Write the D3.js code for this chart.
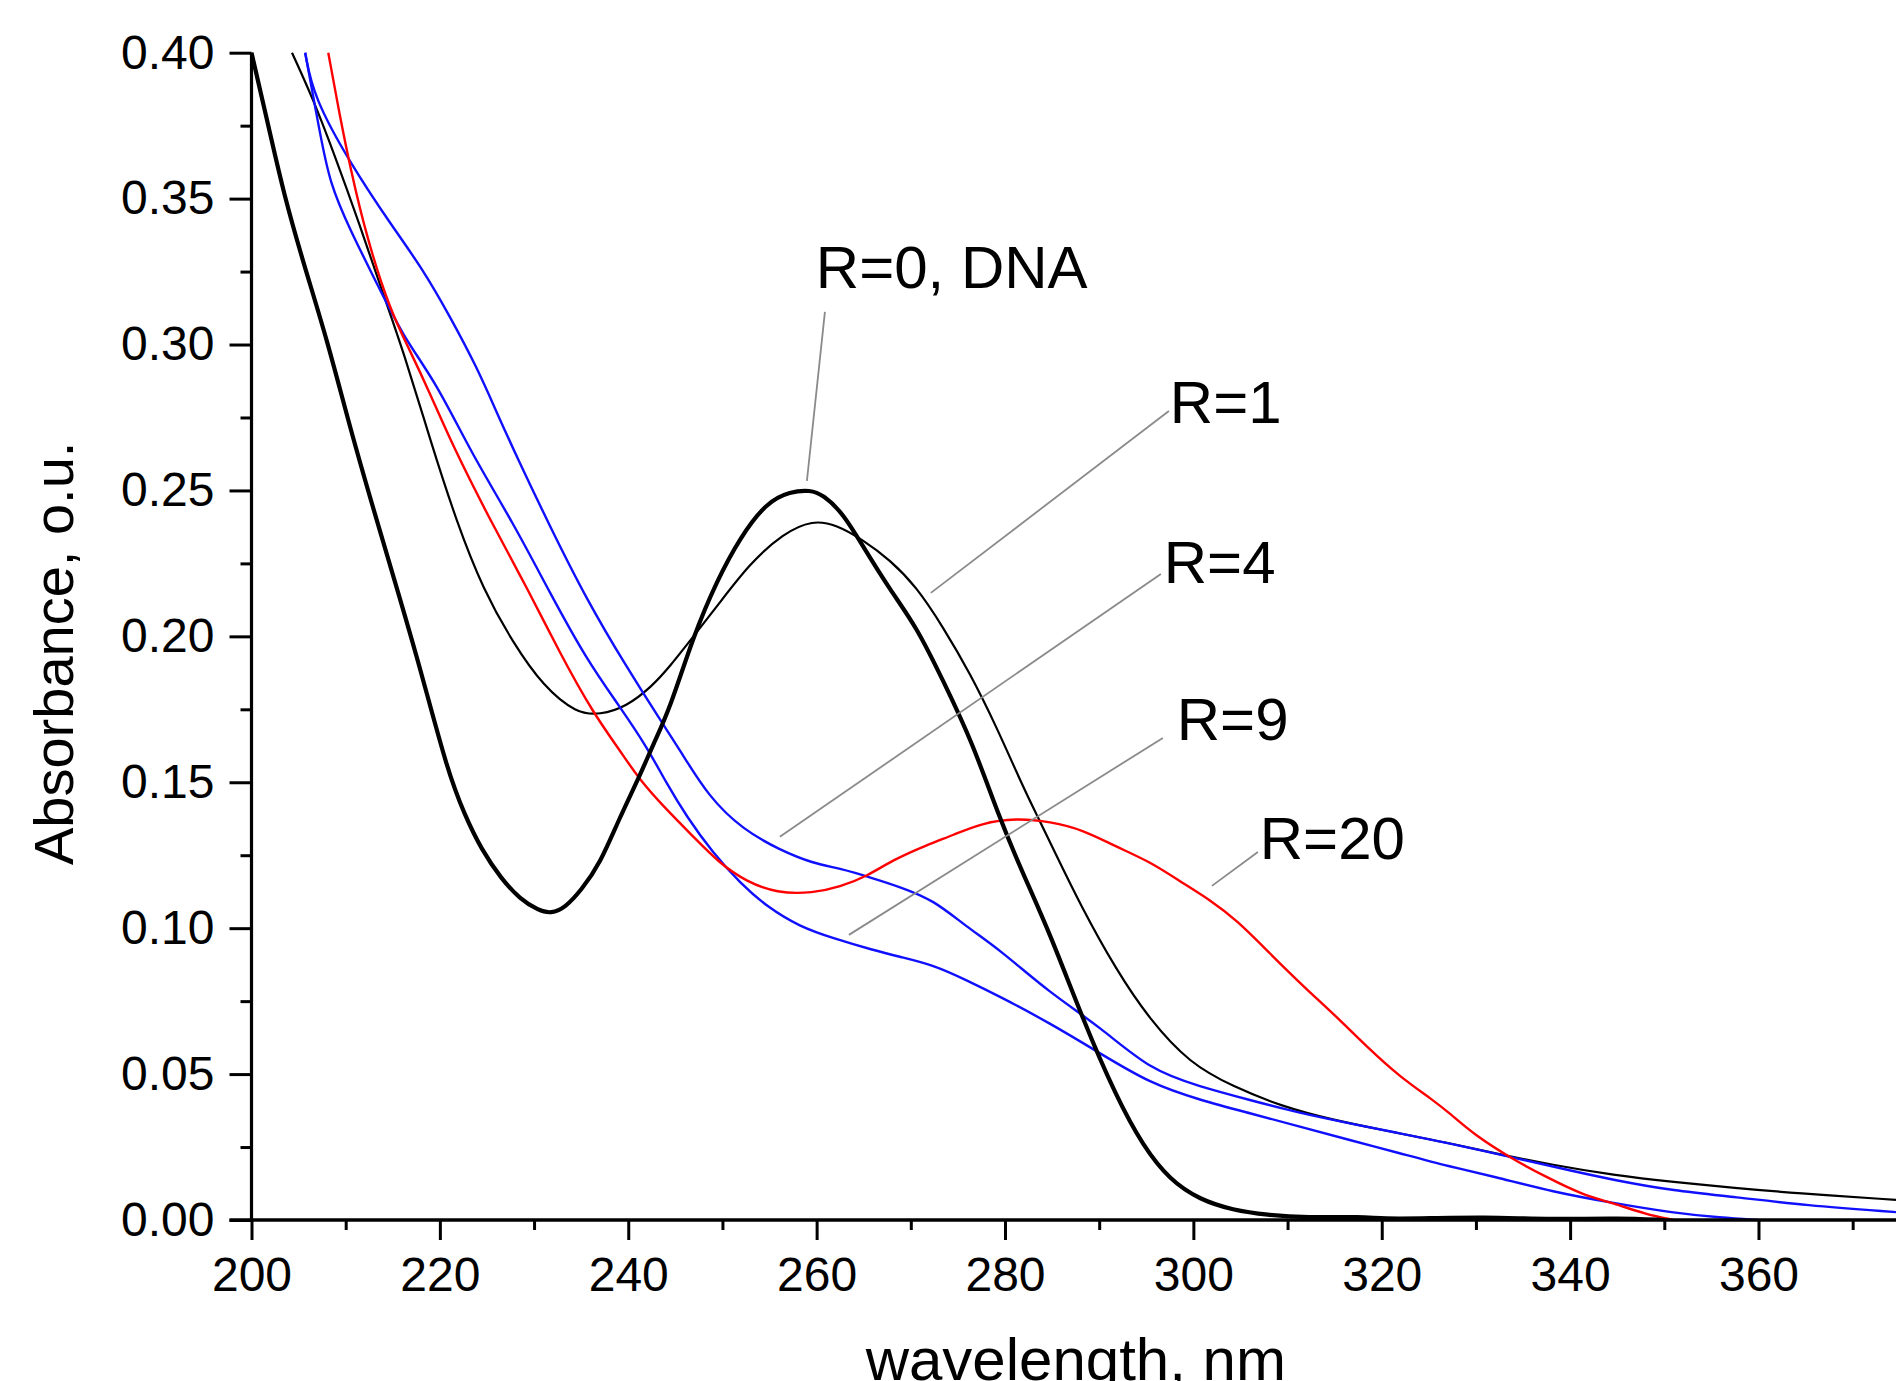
<!DOCTYPE html>
<html>
<head>
<meta charset="utf-8">
<script src="https://cdn.jsdelivr.net/npm/d3@7"></script>
<style>
  html, body { margin: 0; padding: 0; background: #ffffff; }
  svg { display: block; }
  text { font-family: "Liberation Sans", Arial, sans-serif; fill: #000; }
</style>
</head>
<body>
<svg id="chart" width="1896" height="1381"></svg>
<script>
// ---------- DATA ----------
// R=0, DNA (thick black)
const wl_R0  = [200.0, 202.0, 203.4, 205.5, 208.0, 210.5, 213.0, 215.8, 218.0, 220.8, 222.6, 224.4, 226.5, 228.5, 230.5, 231.8, 233.3, 235.0, 237.0, 239.1, 241.2, 242.65, 244.4, 246.9, 249.4, 251.9, 254.7, 257.2, 259.3, 260.7, 262.8, 264.95, 267.8, 270.6, 273.4, 276.5, 279.5, 282.0, 284.8, 288.3, 291.8, 294.7, 297.5, 300.7, 304.2, 307.8, 312.0, 318.0, 320.0, 325.0, 331.0, 336.0, 340.0, 345.0, 350.0];
const abs_R0 = [0.400, 0.372, 0.352, 0.328, 0.302, 0.271, 0.243, 0.2125, 0.188, 0.154, 0.139, 0.127, 0.117, 0.110, 0.106, 0.105, 0.107, 0.113, 0.122, 0.138, 0.152, 0.163, 0.175, 0.200, 0.219, 0.234, 0.246, 0.2496, 0.2502, 0.2485, 0.2422, 0.2307, 0.2159, 0.2033, 0.185, 0.164, 0.137, 0.118, 0.098, 0.0685, 0.0423, 0.0251, 0.0137, 0.0069, 0.0034, 0.0017, 0.0008, 0.0012, 0.0004, 0.0006, 0.0010, 0.0004, 0.0003, 0.0006, 0.0];

// R=1 (thin black)
const wl_R1  = [204.3, 206.56, 208.7, 211.5, 214.0, 216.1, 219.1, 221.8, 224.6, 227.8, 231.0, 234.5, 237.0, 239.8, 242.5, 244.4, 246.9, 249.4, 252.9, 256.45, 259.6, 262.1, 264.95, 267.8, 270.6, 273.4, 276.3, 279.1, 281.9, 283.5, 285.3, 288.0, 291.8, 295.4, 299.6, 304.2, 309.5, 314.8, 320.15, 323.7, 327.2, 331.8, 338.2, 344.6, 351.0, 357.5, 363.9, 374.6];
const abs_R1 = [0.400, 0.384, 0.366, 0.341, 0.317, 0.298, 0.266, 0.239, 0.216, 0.1976, 0.1828, 0.1736, 0.1731, 0.1759, 0.1828, 0.1896, 0.1999, 0.2102, 0.225, 0.2353, 0.2399, 0.2382, 0.233, 0.2262, 0.217, 0.2033, 0.1873, 0.169, 0.1485, 0.138, 0.126, 0.108, 0.0857, 0.0685, 0.0537, 0.0457, 0.0388, 0.0343, 0.0308, 0.0285, 0.0263, 0.023, 0.0188, 0.0154, 0.013, 0.011, 0.0092, 0.0069];

// R=4 (blue)
const wl_R4  = [205.7, 206.56, 210.5, 214.7, 218.24, 221.07, 223.9, 226.0, 228.15, 231.7, 235.6, 239.8, 243.4, 245.5, 248.5, 252.2, 256.1, 259.6, 262.5, 266.0, 268.8, 272.4, 275.9, 279.5, 284.8, 290.1, 295.4, 300.7, 306.0, 311.3, 316.6, 321.9, 327.2, 335.0, 340.0, 344.6, 351.0, 357.5, 365.0, 374.6];
const abs_R4 = [0.400, 0.385, 0.362, 0.3416, 0.3256, 0.3096, 0.2924, 0.277, 0.2616, 0.2376, 0.2125, 0.1896, 0.1713, 0.161, 0.1451, 0.1337, 0.1268, 0.1222, 0.1205, 0.1171, 0.1142, 0.1097, 0.1005, 0.0925, 0.0777, 0.0662, 0.0514, 0.0457, 0.0411, 0.0366, 0.0331, 0.0297, 0.0263, 0.0206, 0.017, 0.0137, 0.010, 0.0079, 0.005, 0.0027];

// R=9 (blue)
const wl_R9  = [205.7, 207.27, 208.3, 210.46, 213.3, 216.1, 219.66, 223.3, 227.8, 231.7, 235.6, 239.1, 242.0, 244.0, 246.2, 249.0, 251.9, 254.7, 258.2, 261.8, 266.0, 268.8, 272.4, 275.9, 279.5, 284.8, 290.1, 295.4, 300.7, 306.0, 311.3, 316.6, 321.9, 327.2, 331.8, 338.2, 344.6, 351.0, 356.0, 360.0];
const abs_R9 = [0.400, 0.3724, 0.3553, 0.3393, 0.321, 0.3027, 0.2867, 0.263, 0.2388, 0.2148, 0.1919, 0.1759, 0.162, 0.150, 0.1382, 0.1257, 0.1154, 0.1074, 0.1005, 0.0965, 0.0925, 0.0902, 0.0874, 0.0822, 0.0765, 0.0674, 0.0571, 0.0468, 0.0411, 0.0366, 0.032, 0.0274, 0.0229, 0.0183, 0.015, 0.0096, 0.0058, 0.0024, 0.0008, 0.0];

// R=20 (red)
const wl_R20  = [208.15, 209.4, 210.46, 212.2, 214.7, 216.8, 218.95, 221.4, 225.7, 229.2, 232.75, 236.3, 239.1, 241.2, 244.1, 246.9, 249.7, 252.6, 255.75, 259.6, 262.5, 265.3, 268.1, 271.7, 274.5, 277.5, 281.2, 284.8, 288.3, 291.8, 295.4, 298.9, 301.75, 304.6, 308.1, 311.7, 315.2, 318.4, 321.9, 325.45, 327.2, 329.9, 333.8, 337.6, 341.4, 344.6, 348.0, 351.0];
const abs_R20 = [0.400, 0.378, 0.361, 0.337, 0.3118, 0.2981, 0.2833, 0.265, 0.2376, 0.217, 0.1942, 0.1736, 0.161, 0.1508, 0.1405, 0.1314, 0.1222, 0.1159, 0.112, 0.112, 0.1142, 0.1177, 0.1234, 0.1285, 0.1319, 0.136, 0.1377, 0.1365, 0.1337, 0.1279, 0.1228, 0.1154, 0.1097, 0.1028, 0.0914, 0.080, 0.0697, 0.0594, 0.0491, 0.0411, 0.0366, 0.029, 0.021, 0.0145, 0.0085, 0.0058, 0.002, 0.0];

// Axis ticks
const xTickValues = [200, 220, 240, 260, 280, 300, 320, 340, 360];
const xMinorTicks = [210, 230, 250, 270, 290, 310, 330, 350, 370];
const yTickValues = [0.00, 0.05, 0.10, 0.15, 0.20, 0.25, 0.30, 0.35, 0.40];
const yMinorTicks = [0.025, 0.075, 0.125, 0.175, 0.225, 0.275, 0.325, 0.375];

// Annotation labels: text, label anchor (nm, abs), leader from (nm, abs) to (nm, abs)
const labelText   = ["R=0, DNA", "R=1", "R=4", "R=9", "R=20"];
const labelX      = [259.92, 297.50, 296.86, 298.24, 307.05];
const labelY      = [0.3194, 0.2731, 0.2183, 0.1645, 0.1237];
const leaderX1    = [260.88, 297.40, 296.55, 296.76, 306.85];
const leaderY1    = [0.3112, 0.2772, 0.2214, 0.1652, 0.1261];
const leaderX2    = [258.97, 272.13, 256.10, 263.43, 301.97];
const leaderY2    = [0.2533, 0.2149, 0.1313, 0.0977, 0.1145];

// ---------- CHART ----------
const svg = d3.select("#chart");
const plotLeft = 251.5, plotRight = 1896, plotTop = 52.7, plotBottom = 1220;

const x = d3.scaleLinear().domain([200, 374.6]).range([plotLeft, plotRight]);
const y = d3.scaleLinear().domain([0, 0.4]).range([plotBottom, plotTop]);

svg.append("defs").append("clipPath").attr("id", "plotclip")
  .append("rect").attr("x", plotLeft).attr("y", plotTop - 2)
  .attr("width", plotRight - plotLeft).attr("height", plotBottom - plotTop + 2);

const series = [
  { wl: wl_R1,  ab: abs_R1,  color: "#000000", width: 2.2 },
  { wl: wl_R4,  ab: abs_R4,  color: "#1010ff", width: 2.4 },
  { wl: wl_R9,  ab: abs_R9,  color: "#1010ff", width: 2.4 },
  { wl: wl_R20, ab: abs_R20, color: "#ff0000", width: 2.4 },
  { wl: wl_R0,  ab: abs_R0,  color: "#000000", width: 4.2 }
];

const line = d3.line()
  .x(d => x(d[0]))
  .y(d => y(d[1]))
  .curve(d3.curveBasis);

const plot = svg.append("g").attr("clip-path", "url(#plotclip)");
series.forEach(s => {
  const pts = s.wl.map((w, i) => [w, s.ab[i]]);
  plot.append("path")
    .datum(pts)
    .attr("d", line)
    .attr("fill", "none")
    .attr("stroke", s.color)
    .attr("stroke-width", s.width)
    .attr("stroke-linejoin", "round");
});

// Leader lines and labels
labelText.forEach((t, i) => {
  svg.append("line")
    .attr("x1", x(leaderX1[i])).attr("y1", y(leaderY1[i]))
    .attr("x2", x(leaderX2[i])).attr("y2", y(leaderY2[i]))
    .attr("stroke", "#8a8a8a").attr("stroke-width", 1.8);
  svg.append("text")
    .attr("x", x(labelX[i])).attr("y", y(labelY[i]))
    .attr("font-size", 60)
    .text(t);
});

// Axes
const fmt = d3.format(".2f");
const yAxis = d3.axisLeft(y).tickValues(yTickValues).tickFormat(fmt).tickSize(22).tickPadding(15).tickSizeOuter(0);
const yMinor = d3.axisLeft(y).tickValues(yMinorTicks).tickFormat("").tickSize(11).tickSizeOuter(0);
const xAxis = d3.axisBottom(x).tickValues(xTickValues).tickFormat(d3.format("d")).tickSize(20).tickPadding(17).tickSizeOuter(0);
const xMinor = d3.axisBottom(x).tickValues(xMinorTicks).tickFormat("").tickSize(10).tickSizeOuter(0);

function styleAxis(g) {
  g.select(".domain").remove();
  g.selectAll(".tick line").attr("stroke", "#000").attr("stroke-width", 3);
  g.selectAll(".tick text").attr("font-size", 48).attr("fill", "#000")
    .attr("font-family", "'Liberation Sans', Arial, sans-serif");
}

svg.append("g").attr("transform", `translate(${plotLeft},0)`).call(yAxis).call(styleAxis);
svg.append("g").attr("transform", `translate(${plotLeft},0)`).call(yMinor).call(styleAxis);
svg.append("g").attr("transform", `translate(0,${plotBottom})`).call(xAxis).call(styleAxis);
svg.append("g").attr("transform", `translate(0,${plotBottom})`).call(xMinor).call(styleAxis);

// axis lines
svg.append("line").attr("x1", plotLeft).attr("x2", plotLeft).attr("y1", plotTop).attr("y2", plotBottom + 1)
  .attr("stroke", "#000").attr("stroke-width", 3.2);
svg.append("line").attr("x1", plotLeft - 22).attr("x2", plotRight).attr("y1", plotBottom).attr("y2", plotBottom)
  .attr("stroke", "#000").attr("stroke-width", 3.6);

// axis titles
svg.append("text")
  .attr("transform", `translate(73,${(plotTop + plotBottom) / 2 + 17}) rotate(-90)`)
  .attr("text-anchor", "middle")
  .attr("font-size", 56)
  .text("Absorbance, o.u.");

svg.append("text")
  .attr("x", (plotLeft + plotRight) / 2 + 2)
  .attr("y", 1380)
  .attr("text-anchor", "middle")
  .attr("font-size", 60)
  .text("wavelength, nm");
</script>
</body>
</html>
